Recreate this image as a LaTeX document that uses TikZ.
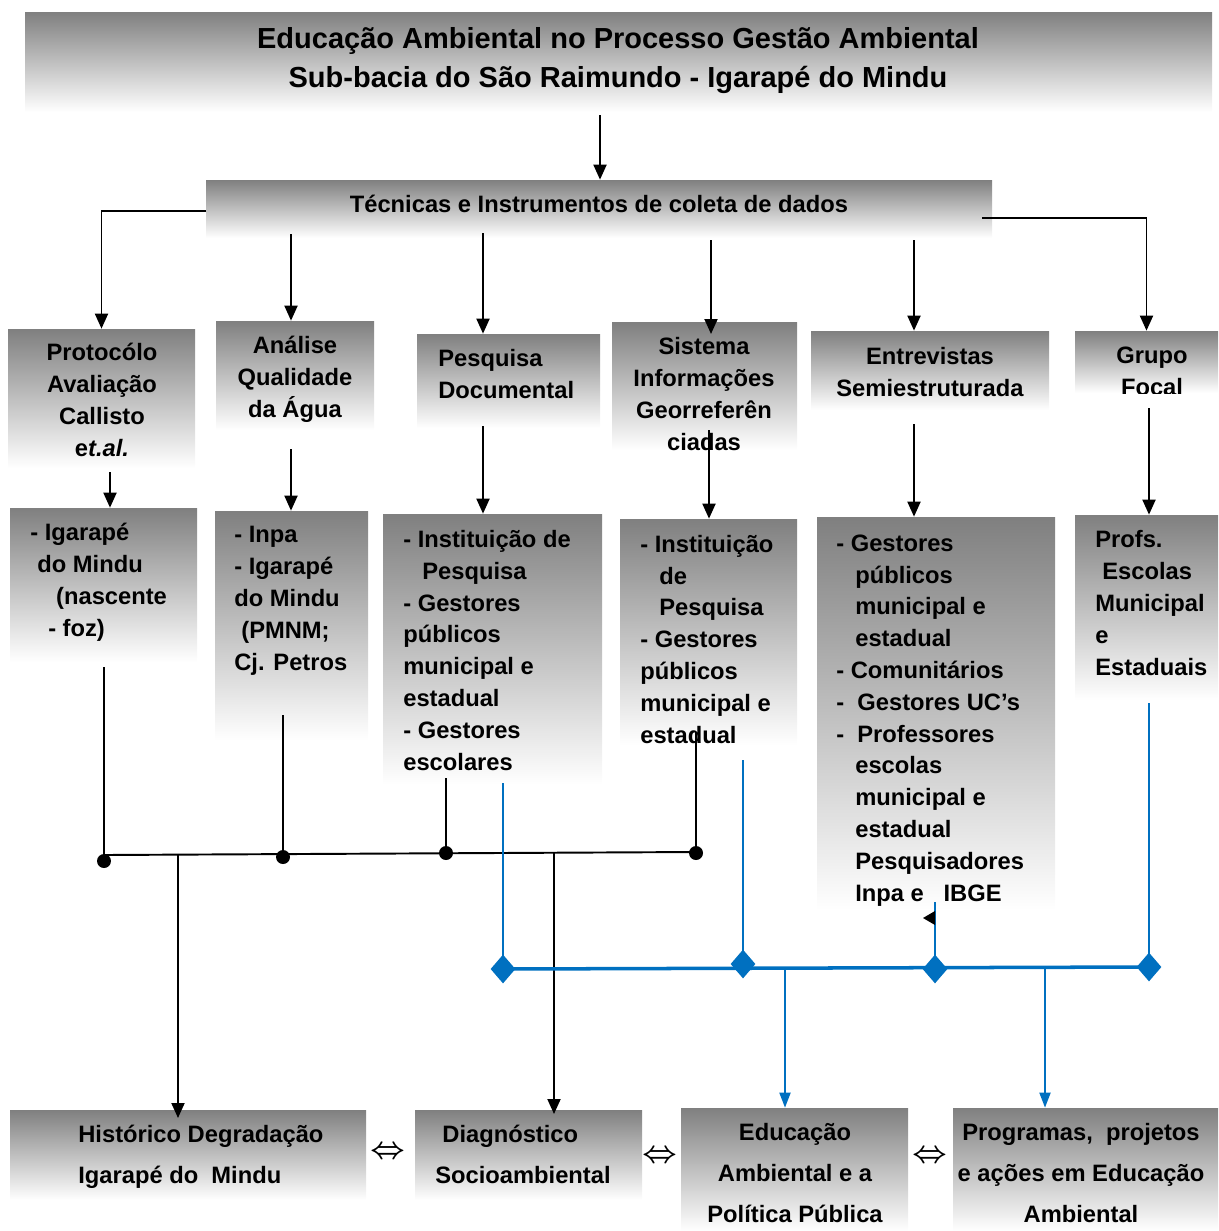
\documentclass[tikz,border=0pt]{standalone}
\usepackage{fontspec}
\setmainfont{Liberation Sans}
\usetikzlibrary{arrows.meta,shapes.geometric,fit}
\definecolor{azul}{HTML}{0070C0}
\tikzset{
  box/.style={inner sep=0pt, top color=gray, bottom color=white, draw=none},
  txt/.style={inner sep=0pt, font=\bfseries\fontsize{13.5}{18.1}\selectfont, align=left},
  txtb/.style={txt, font=\bfseries\fontsize{13.5}{23.2}\selectfont},
  ttl/.style={inner sep=0pt, font=\bfseries\fontsize{16.5}{22}\selectfont, align=center},
  arr/.style={-{Triangle[length=0.3cm,width=0.26cm]}, line width=1.1pt},
  arrb/.style={-{Triangle[length=0.3cm,width=0.22cm]}, line width=1.1pt, draw=azul},
  seta/.style={inner sep=0pt, font=\boldmath\fontsize{17}{17}\selectfont},
  losango/.style={diamond, fill=azul, inner sep=0pt, minimum width=0.5cm, minimum height=0.58cm},
}
\begin{document}
\begin{tikzpicture}[x=0.02cm, y=-0.02cm]
\useasboundingbox (0,0) rectangle (1218,1231);%

% Drawing boxes
\node [box, fit={(25,12) (1212,112)}] (title) {};%
\node [box, fit={(206,180) (992,238)}] (tec) {};%
\node [box, fit={(8,329) (195,468)}] (prot) {};%
\node [box, fit={(216,321) (374,430)}] (ana) {};%
\node [box, fit={(417,334) (600,428)}] (pesq) {};%
\node [box, fit={(612,322) (797,450)}] (sist) {};%
\node [box, fit={(811,331) (1049,410)}] (entr) {};%
\node [box, fit={(1075,331) (1218,393)}] (grupo) {};%
\node [box, fit={(10,508) (197,662)}] (igar) {};%
\node [box, fit={(215,511) (368,740)}] (inpa) {};%
\node [box, fit={(383,514) (602,785)}] (inst) {};%
\node [box, fit={(620,519) (797,745)}] (instb) {};%
\node [box, fit={(817,517) (1055,910)}] (gest) {};%
\node [box, fit={(1075,515) (1218,700)}] (profs) {};%
\node [box, fit={(10,1110) (366,1200)}] (hist) {};%
\node [box, fit={(415,1110) (642,1200)}] (diag) {};%
\node [box, fit={(681,1108) (908,1231)}] (educ) {};%
\node [box, fit={(953,1108) (1218,1231)}] (prog) {};%

% Writing texts (anchored at the baseline of the last line)
\node [ttl, anchor=base] (ttitle) at (618,87) {Educação Ambiental no Processo Gestão Ambiental\\Sub-bacia do São Raimundo - Igarapé do Mindu};%
\node [txt, anchor=base] (ttec) at (599,212) {Técnicas e Instrumentos de coleta de dados};%
\node [txt, align=center, anchor=base] (tprot) at (102,456) {Protocólo\\Avaliação\\Callisto\\\textup{e}\textit{t.al.}};%
\node [txt, align=center, anchor=base] (tana) at (295,417) {Análise\\Qualidade\\da Água};%
\node [txt, anchor=base west] (tpesq) at (438,398) {Pesquisa\\Documental};%
\node [txt, align=center, anchor=base] (tsist) at (704,450) {Sistema\\Informações\\Georreferên\\ciadas};%
\node [txt, align=center, anchor=base] (tentr) at (930,396) {Entrevistas\\Semiestruturada};%
\begin{scope}
  \clip (1075,331) rectangle (1218,393);%
  \node [txt, align=center, anchor=base] (tgrupo) at (1152,395) {Grupo\\Focal};%
\end{scope}
\node [txt, anchor=base west] (tigar) at (30,636) {- Igarapé\\\hspace*{4pt}do Mindu\\\hspace*{14.7pt}(nascente\\\hspace*{10.2pt}- foz)};%
\node [txt, anchor=base west] (tinpa) at (234,670) {- Inpa\\- Igarapé\\do Mindu\\\hspace*{4pt}(PMNM;\\Cj. Petros};%
\node [txt, anchor=base west] (tinst) at (403,770) {- Instituição de\\\hspace*{10.8pt}Pesquisa\\- Gestores\\públicos\\municipal e\\estadual\\- Gestores\\escolares};%
\node [txt, anchor=base west] (tinstb) at (640,743) {- Instituição\\\hspace*{10.8pt}de\\\hspace*{10.8pt}Pesquisa\\- Gestores\\públicos\\municipal e\\estadual};%
\node [txt, anchor=base west] (tgest) at (836,901) {- Gestores\\\hspace*{10.8pt}públicos\\\hspace*{10.8pt}municipal e\\\hspace*{10.8pt}estadual\\- Comunitários\\-\ \ Gestores UC’s\\-\ \ Professores\\\hspace*{10.8pt}escolas\\\hspace*{10.8pt}municipal e\\\hspace*{10.8pt}estadual\\\hspace*{10.8pt}Pesquisadores\\\hspace*{10.8pt}Inpa e\ \ \ IBGE};%
\node [txt, anchor=base west] (tprofs) at (1095,675) {Profs.\\\hspace*{4pt}Escolas\\Municipal\\e\\Estaduais};%
\node [txtb, anchor=base west] (thist) at (78,1183) {Histórico Degradação\\Igarapé do\ \ Mindu};%
\node [txtb, anchor=base west] (tdiag) at (435,1183) {\hspace*{4pt}Diagnóstico\\Socioambiental};%
\node [txtb, align=center, anchor=base] (teduc) at (795,1222) {Educação\\Ambiental e a\\Política Pública};%
\node [txtb, align=center, anchor=base] (tprog) at (1081,1222) {Programas,\ \ projetos\\e ações em Educação\\Ambiental};%

% Marking double arrows
\node [seta] (s1) at (388,1153) {$\Leftrightarrow$};%
\node [seta] (s2) at (660,1157) {$\Leftrightarrow$};%
\node [seta] (s3) at (930,1157) {$\Leftrightarrow$};%

% Drawing arrows from title to techniques
\coordinate (a0) at (600,115);%
\draw [arr] (a0) -- (a0 |- tec.north);%

% Drawing arrows from techniques
\coordinate (c1) at (206,211);%
\coordinate (c2) at (291,234);%
\coordinate (c3) at (483,233);%
\coordinate (c4) at (711,240);%
\coordinate (c4e) at (711,334);%
\coordinate (c5) at (914,240);%
\coordinate (c6) at (982,218);%
\draw [arr] (c1) -| (prot.north);%
\draw [arr] (c2) -- (c2 |- ana.north);%
\draw [arr] (c3) -- (c3 |- pesq.north);%
\draw [arr] (c4) -- (c4e);%
\draw [arr] (c5) -- (c5 |- entr.north);%
\draw [arr] (c6) -| (grupo.north);%

% Drawing arrows to lists
\coordinate (d1) at (110,472);%
\coordinate (d2) at (291,449);%
\coordinate (d3) at (483,426);%
\coordinate (d4) at (709,430);%
\coordinate (d5) at (914,424);%
\coordinate (d6) at (1149,408);%
\draw [arr] (d1) -- (d1 |- igar.north);%
\draw [arr] (d2) -- (d2 |- inpa.north);%
\draw [arr] (d3) -- (d3 |- inst.north);%
\draw [arr] (d4) -- (d4 |- instb.north);%
\draw [arr] (d5) -- (d5 |- gest.north);%
\draw [arr] (d6) -- (d6 |- profs.north);%

% Drawing black bus
\coordinate (e1) at (104,667);%
\coordinate (e2) at (283,715);%
\coordinate (e3) at (446,778);%
\coordinate (e4) at (696,732);%
\coordinate (b1) at (104,861);%
\coordinate (b2) at (283,857);%
\coordinate (b3) at (446,853);%
\coordinate (b4) at (696,853);%
\draw [line width=1.1pt] (e1) -- (b1);%
\draw [line width=1.1pt] (e2) -- (b2);%
\draw [line width=1.1pt] (e3) -- (b3);%
\draw [line width=1.1pt] (e4) -- (b4);%
\draw [line width=1.1pt] (104,855) -- (696,852);%
\foreach \p in {b1,b2,b3,b4}
  \fill (\p) circle [radius=0.14cm];%
\coordinate (f1) at (178,855);%
\coordinate (f1e) at (178,1118);%
\coordinate (f2) at (554,852);%
\coordinate (f2e) at (554,1114);%
\draw [arr] (f1) -- (f1e);%
\draw [arr] (f2) -- (f2e);%

% Drawing blue bus
\coordinate (g1) at (503,783);%
\coordinate (g2) at (743,760);%
\coordinate (g3) at (935,902);%
\coordinate (g4) at (1149,703);%
\node [losango] (dm1) at (503,969) {};%
\node [losango] (dm2) at (743,964) {};%
\node [losango] (dm3) at (935,969) {};%
\node [losango] (dm4) at (1149,967) {};%
\draw [azul, line width=1.1pt] (g1) -- (dm1.center);%
\draw [azul, line width=1.1pt] (g2) -- (dm2.center);%
\draw [azul, line width=1.1pt] (g3) -- (dm3.center);%
\draw [azul, line width=1.1pt] (g4) -- (dm4.center);%
\draw [azul, line width=2pt] (dm1.center) -- (dm4.center);%
\fill (923,918) -- (935,911) -- (935,925) -- cycle;%
\coordinate (h1) at (785,968);%
\coordinate (h2) at (1045,968);%
\draw [arrb] (h1) -- (h1 |- educ.north);%
\draw [arrb] (h2) -- (h2 |- prog.north);%
\end{tikzpicture}
\end{document}
